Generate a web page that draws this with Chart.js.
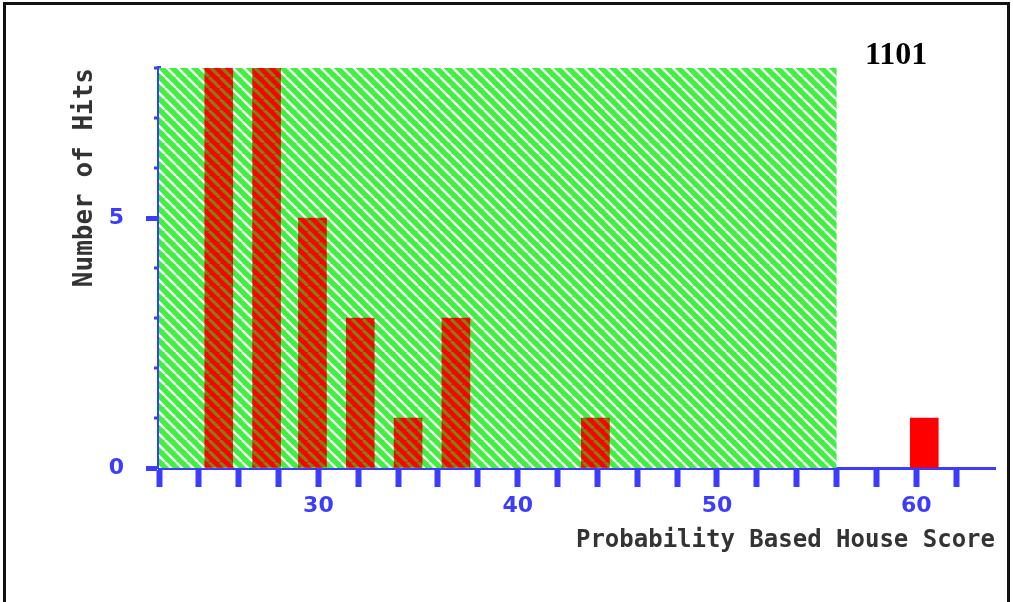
<!DOCTYPE html>
<html>
<head>
<meta charset="utf-8">
<script src="https://cdn.jsdelivr.net/npm/chart.js@4.4.1/dist/chart.umd.min.js"></script>
<style>
  html, body { margin: 0; padding: 0; background: #fff; }
  #wrap { position: relative; width: 1013px; height: 602px; }
  #tag { position: absolute; left: 865px; top: 37px; font: bold 32px "Liberation Serif", serif; line-height: 1; color: #000; }
</style>
</head>
<body>
<div id="wrap">
  <canvas id="chart" width="1013" height="602"></canvas>
  <div id="tag">1101</div>
</div>
<script>
// histogram bins (centre of each bar) and counts
const binCenters = [25.0, 27.4, 29.7, 32.1, 34.5, 36.9, 43.9, 60.4];
const hitCounts = [8, 8, 5, 3, 1, 3, 1, 1];
// shaded (hatched green) band behind the bars
const shadedRange = [22, 56];
const shadedTop = 8;
// labelled ticks
const xLabelValues = [30, 40, 50, 60];
const yMinorValues = [1, 2, 3, 4, 6, 7, 8];

const xTitle = "Probability Based House Score";
const yTitle = "Number of Hits";
const blue = "#3c3cff";

function makeHatch(base, stripe, lineW) {
    const s = 11;
    const c = document.createElement("canvas");
    c.width = s;
    c.height = s;
    const g = c.getContext("2d");
    g.fillStyle = base;
    g.fillRect(0, 0, s, s);
    g.strokeStyle = stripe;
    g.lineWidth = lineW;
    g.beginPath();
    for (const off of [-s, 0, s]) {
        g.moveTo(off, 0);
        g.lineTo(off + s, s);
    }
    g.stroke();
    return g.createPattern(c, "repeat");
}

const ctx = document.getElementById("chart").getContext("2d");
const greenHatch = makeHatch("#40f040", "#ffffff", 2.4);
const redHatch = makeHatch("#ff0000", "#7f8010", 3.2);

const shadePlugin = {
    id: "shadeBand",
    beforeDatasetsDraw(chart) {
        const { x, y } = chart.scales;
        const x0 = x.getPixelForValue(shadedRange[0]);
        const x1 = x.getPixelForValue(shadedRange[1]);
        const y0 = y.getPixelForValue(shadedTop);
        const y1 = y.getPixelForValue(0);
        const c = chart.ctx;
        c.save();
        c.fillStyle = greenHatch;
        c.fillRect(x0, y0, x1 - x0, y1 - y0);
        c.restore();
    },
};

const framePlugin = {
    id: "frame",
    afterDraw(chart) {
        const c = chart.ctx;
        const { x, y } = chart.scales;
        c.save();
        // minor y ticks
        c.fillStyle = blue;
        yMinorValues.forEach((v) => {
            const py = y.getPixelForValue(v);
            c.fillRect(x.left - 5, py - 1.5, 5, 3);
        });
        // page border
        c.fillStyle = "#111";
        c.fillRect(3, 2, 3, 600);
        c.fillRect(3, 2, 1007, 3);
        c.fillRect(1007, 2, 3, 600);
        c.restore();
    },
};

new Chart(ctx, {
    type: "bar",
    data: {
        datasets: [
            {
                data: binCenters.map((v, i) => ({ x: v, y: hitCounts[i] })),
                backgroundColor: (c) => (c.raw && c.raw.x < shadedRange[1] ? redHatch : "#ff0000"),
                borderWidth: 0,
                barThickness: 28,
            },
        ],
    },
    options: {
        responsive: false,
        animation: false,
        layout: { padding: { left: 70, right: 18, top: 68, bottom: 47 } },
        plugins: {
            legend: { display: false },
            tooltip: { enabled: false },
        },
        scales: {
            x: {
                type: "linear",
                min: 22,
                max: 63.95,
                offset: false,
                afterFit: (scale) => {
                    scale.height = 87;
                },
                ticks: {
                    stepSize: 2,
                    includeBounds: false,
                    autoSkip: false,
                    maxRotation: 0,
                    padding: 6,
                    color: blue,
                    font: { family: "DejaVu Sans", weight: "bold", size: 22 },
                    callback: (v) => (xLabelValues.includes(v) ? String(v) : ""),
                },
                grid: { drawOnChartArea: false, offset: false, tickLength: 19, tickWidth: 6, tickColor: blue },
                border: { color: blue, width: 3 },
                title: {
                    display: true,
                    text: xTitle,
                    align: "end",
                    color: "#333",
                    font: { family: "DejaVu Sans Mono", weight: "bold", size: 24 },
                    padding: 0,
                },
            },
            y: {
                min: 0,
                max: 8,
                afterFit: (scale) => {
                    scale.width = 89;
                },
                ticks: {
                    stepSize: 5,
                    includeBounds: false,
                    padding: 22,
                    color: blue,
                    font: { family: "DejaVu Sans", weight: "bold", size: 22 },
                },
                grid: { drawOnChartArea: false, tickLength: 13, tickWidth: 5, tickColor: blue },
                border: { color: blue, width: 4 },
                title: {
                    display: true,
                    text: yTitle,
                    align: "end",
                    color: "#333",
                    font: { family: "DejaVu Sans Mono", weight: "bold", size: 26 },
                    padding: 0,
                },
            },
        },
    },
    plugins: [shadePlugin, framePlugin],
});
</script>
</body>
</html>
